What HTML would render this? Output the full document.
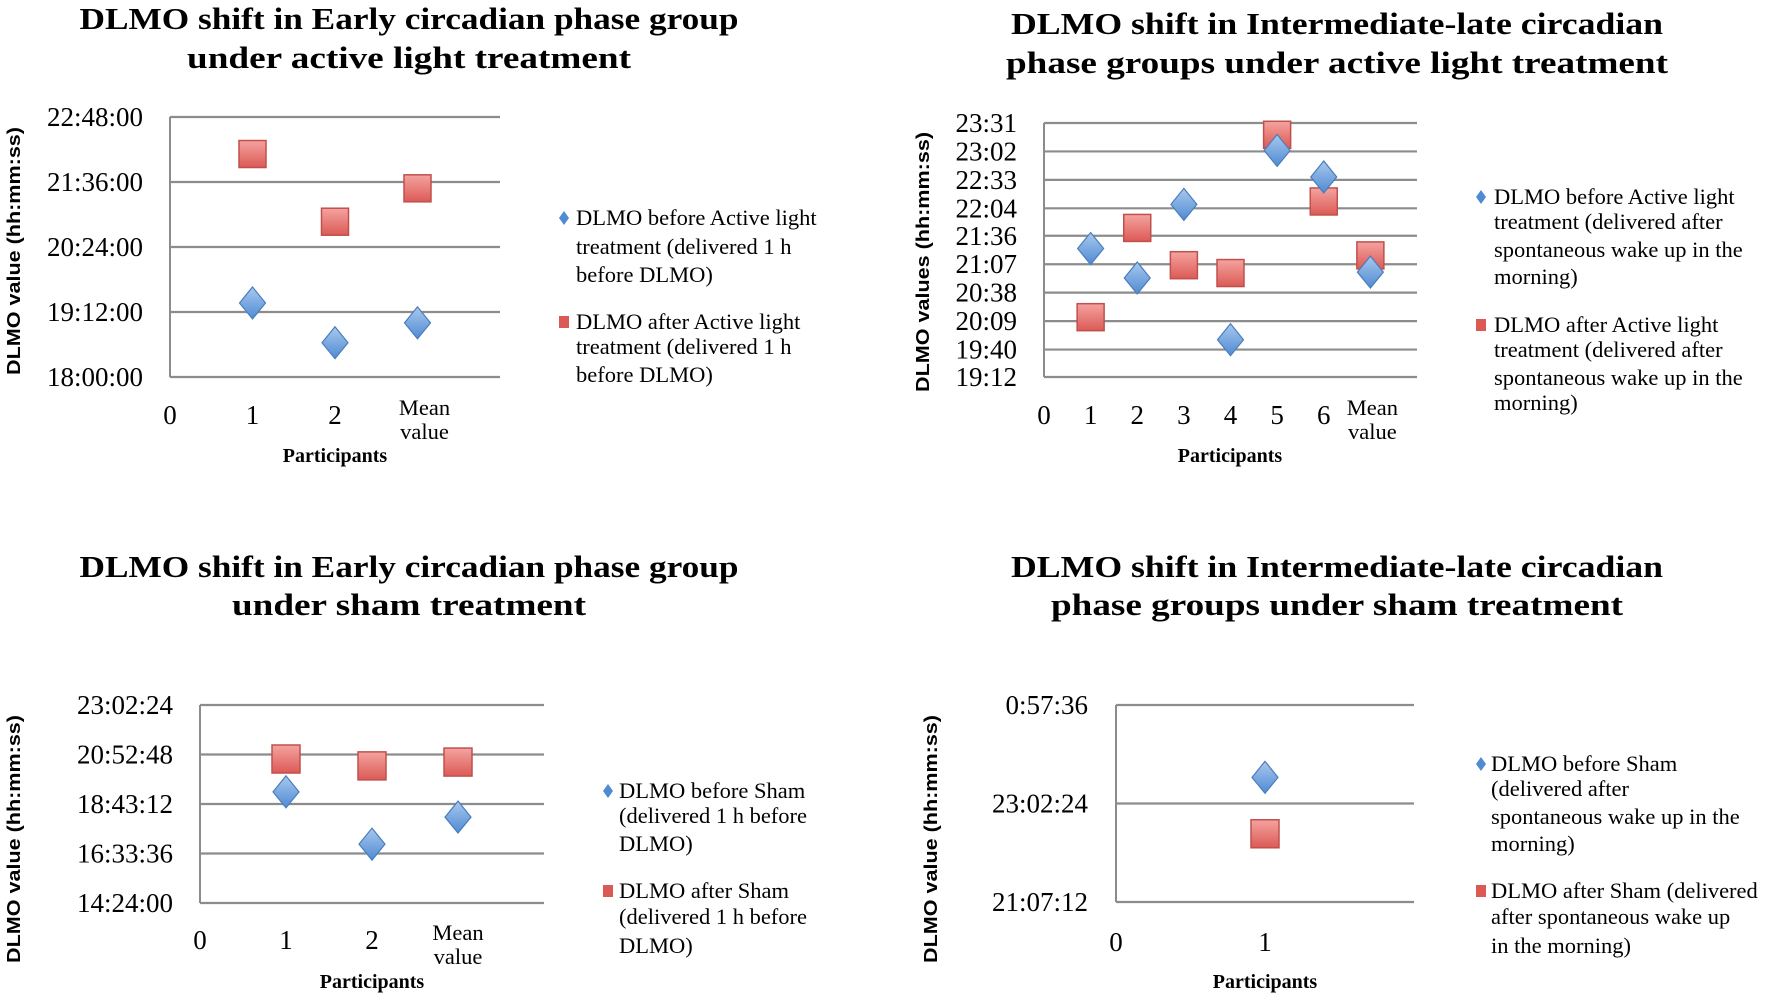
<!DOCTYPE html>
<html><head><meta charset="utf-8"><style>
html,body{margin:0;padding:0;background:#fff;}
svg{display:block;}
text{font-family:"Liberation Serif",serif;fill:#000;}
.ttl{font-weight:bold;font-size:31px;}
.tick{font-size:27px;}
.leg{font-size:22.5px;}
.ax{font-family:"Liberation Sans",sans-serif;font-weight:bold;font-size:18px;}
.xt{font-family:"Liberation Serif",serif;font-weight:bold;font-size:20px;}
</style></head><body>
<svg id="root" width="1772" height="998" viewBox="0 0 1772 998" xmlns="http://www.w3.org/2000/svg">
<defs>
<linearGradient id="gr" x1="0" y1="0" x2="0" y2="1"><stop offset="0" stop-color="#f4a3a0"/><stop offset="1" stop-color="#dc5a55"/></linearGradient>
<linearGradient id="gb" x1="0" y1="0" x2="0" y2="1"><stop offset="0" stop-color="#a9c8ee"/><stop offset="1" stop-color="#4f8bd3"/></linearGradient>
</defs>
</svg>
<script>
// Panel 1: Early, active light
const p1Cats = ["1","2","Mean value"];
const p1Before = ["19:22","18:38","19:00"];
const p1After = ["22:07","20:52","21:29"];
const p1Ticks = ["18:00:00","19:12:00","20:24:00","21:36:00","22:48:00"];
// Panel 2: Intermediate-late, active light
const p2Cats = ["1","2","3","4","5","6","Mean value"];
const p2Before = ["21:23","20:53","22:08","19:50","23:03","22:36","20:59"];
const p2After = ["20:13","21:44","21:06","20:58","23:19","22:11","21:16"];
const p2Ticks = ["19:12","19:40","20:09","20:38","21:07","21:36","22:04","22:33","23:02","23:31"];
// Panel 3: Early, sham
const p3Cats = ["1","2","Mean value"];
const p3Before = ["19:15","16:58","18:09"];
const p3After = ["20:41","20:23","20:33"];
const p3Ticks = ["14:24:00","16:33:36","18:43:12","20:52:48","23:02:24"];
// Panel 4: Intermediate-late, sham
const p4Cats = ["1"];
const p4Before = ["23:33"];
const p4After = ["22:27"];
const p4Ticks = ["21:07:12","23:02:24","0:57:36"];

const NS="http://www.w3.org/2000/svg";
const root=document.getElementById('root');
function mk(tag,attrs,parent){const e=document.createElementNS(NS,tag);for(const k in attrs)e.setAttribute(k,attrs[k]);(parent||root).appendChild(e);return e;}
function toMin(s,wrap){const p=s.split(':').map(Number);let m=p[0]*60+p[1]+(p[2]||0)/60;if(wrap&&m<12*60)m+=1440;return m;}

function drawChart(c){
  const g=mk('g',{});
  
  
  c.title.forEach((t,i)=>{const e=mk('text',{x:c.tcx,y:c.ty[i],'text-anchor':'middle','class':'ttl',textLength:c.tlen[i],lengthAdjust:'spacingAndGlyphs'},g);e.textContent=t;
    
    });
  const tmin=toMin(c.ticks[0],c.wrap), tmax=toMin(c.ticks[c.ticks.length-1],c.wrap);
  const y=v=>c.bottom-(toMin(v,c.wrap)-tmin)/(tmax-tmin)*(c.bottom-c.top);
  const xmax=c.cats.length+1;
  const x=i=>c.left+i/xmax*(c.right-c.left);
  c.ticks.forEach(t=>{const yy=y(t);
    const l=mk('line',{x1:c.left,x2:c.right,y1:yy,y2:yy,stroke:'#8c8c8c','stroke-width':2.2},g);
    
    
    const e=mk('text',{x:c.labR,y:yy+9,'text-anchor':'end','class':'tick'},g);e.textContent=t;
    
    });
  const ax=mk('line',{x1:c.left,x2:c.left,y1:c.top,y2:c.bottom,stroke:'#8c8c8c','stroke-width':2},g);
  
  
  const xl=['0'].concat(c.cats);
  xl.forEach((t,i)=>{
    if(t==='Mean value'){
      ['Mean','value'].forEach((w,j)=>{const e=mk('text',{x:x(i)+(c.meanDx||0),y:c.xly+j*24,'text-anchor':'middle','class':'leg'},g);e.textContent=w;
        
        });
    } else {const e=mk('text',{x:x(i),y:c.xly+9,'text-anchor':'middle','class':'tick'},g);e.textContent=t;
      
      }
  });
  const xt=mk('text',{x:c.ptx,y:c.pty+7,'text-anchor':'middle','class':'xt'},g);xt.textContent='Participants';
  
  
  const yt=mk('text',{x:0,y:0,'text-anchor':'middle','class':'ax',transform:`translate(${c.ytx+6},${c.yty}) rotate(-90)`,textLength:c.ytlen,lengthAdjust:'spacingAndGlyphs'},g);yt.textContent=c.ytitle;
  
  
  c.after.forEach((v,i)=>{const cx=x(i+1),cy=y(v),s=c.sq;
    const r=mk('rect',{x:cx-s/2,y:cy-s/2,width:s,height:s,fill:'url(#gr)',stroke:'#c0504d','stroke-width':1.5},g);
    
    });
  c.before.forEach((v,i)=>{const cx=x(i+1),cy=y(v);
    const p=mk('polygon',{points:`${cx},${cy-16} ${cx+13},${cy} ${cx},${cy+16} ${cx-13},${cy}`,fill:'url(#gb)',stroke:'#4a7ebb','stroke-width':1.2},g);
    
    });
  const lg=mk('g',{},g);
  
  
  const d1=mk('polygon',{points:`${c.lmx},${c.l1[0]-7} ${c.lmx+5},${c.l1[0]} ${c.lmx},${c.l1[0]+7} ${c.lmx-5},${c.l1[0]}`,fill:'#4f8bd3'},lg);
  
  
  const r1=mk('rect',{x:c.lmx-5,y:c.l2[0]-6,width:10,height:12,fill:'#dc5a55'},lg);
  
  
  [[c.leg1,c.l1],[c.leg2,c.l2]].forEach(([lines,ys])=>{lines.forEach((t,j)=>{const e=mk('text',{x:c.ltx,y:ys[j]+7,'class':'leg'},lg);e.textContent=t;
    
    });});
}

drawChart({name:'chart-early-active',title:['DLMO shift in Early circadian phase group','under active light treatment'],tcx:409,ty:[29,68],tlen:[659,444],
  cats:p1Cats,before:p1Before,after:p1After,ticks:p1Ticks,left:170,right:500,top:117,bottom:377,labR:143,xly:415,ptx:335,pty:455,meanDx:7,
  ytitle:'DLMO value (hh:mm:ss)',ytx:14,yty:251,ytlen:248,sq:27,
  lmx:564,ltx:576,l1:[218,247,275],l2:[322,347,375],
  leg1:['DLMO before Active light','treatment (delivered 1 h','before DLMO)'],leg2:['DLMO after Active light','treatment (delivered 1 h','before DLMO)']});

drawChart({name:'chart-intermediate-active',title:['DLMO shift in Intermediate-late circadian','phase groups under active light treatment'],tcx:1337,ty:[34,73],tlen:[652,662],
  cats:p2Cats,before:p2Before,after:p2After,ticks:p2Ticks,left:1044,right:1417,top:123,bottom:377,labR:1017,xly:415,ptx:1230,pty:455,meanDx:2,
  ytitle:'DLMO values (hh:mm:ss)',ytx:923,yty:262,ytlen:260,sq:27,
  lmx:1481,ltx:1494,l1:[197,222,250,277],l2:[325,350,378,403],
  leg1:['DLMO before Active light','treatment (delivered after','spontaneous wake up in the','morning)'],leg2:['DLMO after Active light','treatment (delivered after','spontaneous wake up in the','morning)']});

drawChart({name:'chart-early-sham',title:['DLMO shift in Early circadian phase group','under sham treatment'],tcx:409,ty:[577,615],tlen:[659,354],
  cats:p3Cats,before:p3Before,after:p3After,ticks:p3Ticks,left:200,right:544,top:705,bottom:903,labR:173,xly:940,ptx:372,pty:981,meanDx:0,
  ytitle:'DLMO value (hh:mm:ss)',ytx:14,yty:839,ytlen:248,sq:28,
  lmx:608,ltx:619,l1:[791,816,844],l2:[891,917,946],
  leg1:['DLMO before Sham','(delivered 1 h before','DLMO)'],leg2:['DLMO after Sham','(delivered 1 h before','DLMO)']});

drawChart({name:'chart-intermediate-sham',title:['DLMO shift in Intermediate-late circadian','phase groups under sham treatment'],tcx:1337,ty:[577,615],tlen:[652,572],
  cats:p4Cats,before:p4Before,after:p4After,ticks:p4Ticks,wrap:true,left:1116,right:1414,top:705,bottom:902,labR:1088,xly:942,ptx:1265,pty:981,
  ytitle:'DLMO value (hh:mm:ss)',ytx:931,yty:839,ytlen:248,sq:28,
  lmx:1481,ltx:1491,l1:[764,789,817,844],l2:[891,917,946],
  leg1:['DLMO before Sham','(delivered after','spontaneous wake up in the','morning)'],leg2:['DLMO after Sham (delivered','after spontaneous wake up','in the morning)']});
</script>
</body></html>
